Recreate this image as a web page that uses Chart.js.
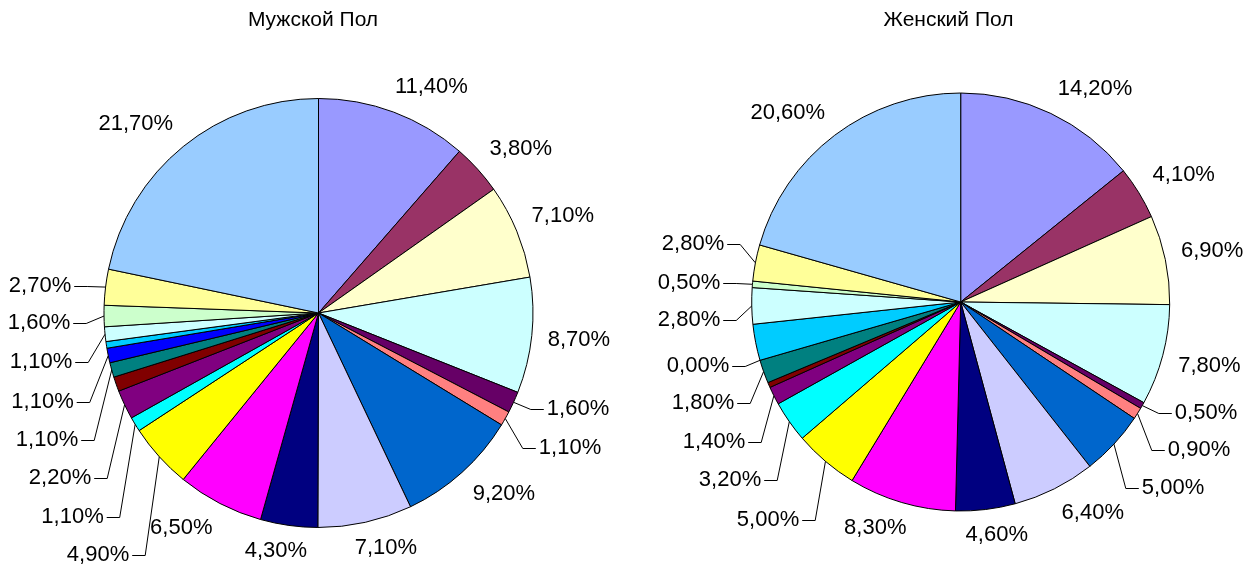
<!DOCTYPE html>
<html>
<head>
<meta charset="utf-8">
<script src="https://cdn.jsdelivr.net/npm/chart.js@4/dist/chart.umd.min.js"></script>
<style>
  html, body { margin: 0; padding: 0; background: #ffffff; }
  #wrap { position: relative; width: 1254px; height: 570px; overflow: hidden; }
  #wrap canvas { position: absolute; top: 0; }
  #male { left: 0; }
  #female { left: 627px; }
</style>
</head>
<body>
<div id="wrap">
  <canvas id="male" width="627" height="570"></canvas>
  <canvas id="female" width="627" height="570"></canvas>
</div>
<script>
// Shares (%) per category, clockwise from 12 o'clock
const categories = [
  'Категория 1', 'Категория 2', 'Категория 3', 'Категория 4', 'Категория 5',
  'Категория 6', 'Категория 7', 'Категория 8', 'Категория 9', 'Категория 10',
  'Категория 11', 'Категория 12', 'Категория 13', 'Категория 14', 'Категория 15',
  'Категория 16', 'Категория 17', 'Категория 18', 'Категория 19', 'Категория 20',
  'Категория 21'
];
const maleShares   = [11.4, 3.8, 7.1, 8.7, 1.6, 1.1, 9.2, 7.1, 4.3, 6.5, 4.9, 1.1, 2.2, 1.1, 1.1, 1.1, 0.5, 1.1, 1.6, 2.7, 21.7];
const femaleShares = [14.2, 4.1, 6.9, 7.8, 0.5, 0.9, 5.0, 6.4, 4.6, 8.3, 5.0, 3.2, 1.4, 0.4, 1.8, 0.0, 2.8, 2.8, 0.5, 2.8, 20.6];
const titles = ['Мужской Пол', 'Женский Пол'];

// Slices whose value labels are not shown
const unlabeledSlices = [13, 16];

// Classic office palette, one colour per category
const sliceColors = [
  '#9999FF', '#993366', '#FFFFCC', '#CCFFFF', '#660066', '#FF8080', '#0066CC',
  '#CCCCFF', '#000080', '#FF00FF', '#FFFF00', '#00FFFF', '#800080', '#800000',
  '#008080', '#0000FF', '#00CCFF', '#CCFFFF', '#CCFFCC', '#FFFF99', '#99CCFF'
];

// Labels moved away from their slice (text centre relative to pie centre); joined by a leader line
const maleMovedLabels = {
  4: [259.5, 96], 5: [251.5, 135], 10: [-220.5, 242], 11: [-246, 204], 12: [-258.5, 165],
  14: [-271.5, 127], 15: [-276, 89], 17: [-277.5, 49], 18: [-279.5, 10], 19: [-278.5, -27]
};
const femaleMovedLabels = {
  4: [245.3, 111], 5: [238.3, 148], 6: [212.3, 186], 10: [-192.7, 218], 11: [-230.7, 178],
  12: [-246.7, 140], 14: [-257.7, 101], 15: [-262.7, 64], 17: [-271.7, 18], 18: [-271.7, -19],
  19: [-267.7, -58]
};

const FONT = '"Liberation Sans", Arial, sans-serif';

function formatShare(v) {
  return v.toFixed(2).replace('.', ',') + '%';
}
function clamp1(v) {
  return Math.max(-1, Math.min(1, v));
}

// Percentage labels outside the pie, with leader lines for moved labels
const pieLabels = {
  id: 'pieLabels',
  afterDatasetsDraw(chart, args, opts) {
    const ctx = chart.ctx;
    const meta = chart.getDatasetMeta(0);
    const values = chart.data.datasets[0].data;
    ctx.save();
    ctx.font = opts.font;
    ctx.fillStyle = '#000000';
    ctx.strokeStyle = '#000000';
    ctx.lineWidth = 1;
    ctx.textAlign = 'center';
    ctx.textBaseline = 'middle';
    meta.data.forEach((arc, i) => {
      if (opts.skip.includes(i)) return;
      const p = arc.getProps(['x', 'y', 'startAngle', 'endAngle', 'outerRadius'], true);
      const mid = (p.startAngle + p.endAngle) / 2;
      const ux = Math.cos(mid), uy = Math.sin(mid);
      const text = formatShare(values[i]);
      const w = ctx.measureText(text).width;
      const moved = opts.moved[i];
      let tx, ty;
      if (moved) {
        tx = p.x + moved[0];
        ty = p.y + moved[1];
      } else {
        const R = p.outerRadius + opts.gap;
        const px = p.x + R * ux, py = p.y + R * uy;
        tx = px + (w / 2) * clamp1(2.5 * ux);
        ty = py + (opts.boxHeight / 2) * clamp1(2.5 * uy);
      }
      ctx.fillText(text, tx, ty);
      if (moved) {
        const dir = tx < p.x ? 1 : -1;
        const ly = Math.round(ty) + 0.5;
        const sx = tx + dir * (w / 2 + 3);
        const kx = sx + dir * 13;
        const ex = p.x + p.outerRadius * ux;
        const ey = p.y + p.outerRadius * uy;
        ctx.beginPath();
        ctx.moveTo(sx, ly);
        ctx.lineTo(kx, ly);
        ctx.lineTo(ex, ey);
        ctx.stroke();
      }
    });
    ctx.restore();
  }
};

// Panel heading
const panelTitle = {
  id: 'panelTitle',
  afterDraw(chart, args, opts) {
    const ctx = chart.ctx;
    ctx.save();
    ctx.font = opts.font;
    ctx.fillStyle = '#000000';
    ctx.textAlign = 'center';
    ctx.textBaseline = 'middle';
    ctx.fillText(opts.text, opts.x, opts.y);
    ctx.restore();
  }
};

function buildPie(canvasId, shares, moved, title, titleX, padding, radius) {
  return new Chart(document.getElementById(canvasId), {
    type: 'pie',
    data: {
      labels: categories,
      datasets: [{
        data: shares,
        backgroundColor: sliceColors,
        borderColor: '#000000',
        borderWidth: 1
      }]
    },
    options: {
      responsive: false,
      animation: false,
      radius: radius,
      layout: { padding: padding },
      events: [],
      plugins: {
        legend: { display: false },
        tooltip: { enabled: false },
        title: { display: false },
        panelTitle: { text: title, x: titleX, y: 20, font: '21px ' + FONT },
        pieLabels: {
          font: '22px ' + FONT,
          gap: 16,
          boxHeight: 20,
          moved: moved,
          skip: unlabeledSlices
        }
      }
    },
    plugins: [pieLabels, panelTitle]
  });
}

buildPie('male', maleShares, maleMovedLabels, titles[0], 313,
  { left: 104, right: 94, top: 98.5, bottom: 42.5 }, 214.5);
buildPie('female', femaleShares, femaleMovedLabels, titles[1], 321.5,
  { left: 124.7, right: 84.3, top: 93, bottom: 59 }, 209);
</script>
</body>
</html>
